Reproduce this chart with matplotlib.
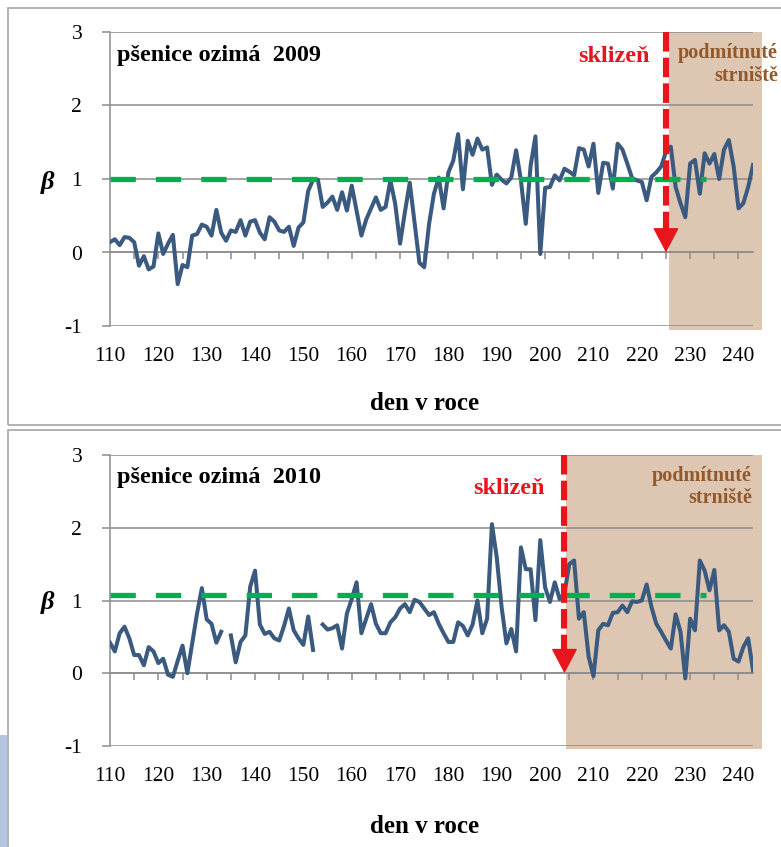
import matplotlib
matplotlib.use("Agg")
import matplotlib.pyplot as plt
from matplotlib.patches import Rectangle
import numpy as np

plt.rcParams['font.family'] = ['Liberation Serif', 'DejaVu Serif']

W, H = 781, 847

days = list(range(110, 244))

beta_2009 = [
    0.14, 0.18, 0.10, 0.21, 0.20, 0.14, -0.18, -0.05, -0.23, -0.19,
    0.26, -0.02, 0.12, 0.24, -0.43, -0.17, -0.20, 0.23, 0.25, 0.38,
    0.35, 0.23, 0.58, 0.27, 0.16, 0.30, 0.28, 0.44, 0.23, 0.42,
    0.44, 0.27, 0.18, 0.48, 0.42, 0.30, 0.28, 0.35, 0.09, 0.34,
    0.41, 0.84, 0.99, 0.99, 0.62, 0.68, 0.76, 0.58, 0.82, 0.57,
    0.91, 0.57, 0.23, 0.45, 0.60, 0.75, 0.58, 0.62, 0.98, 0.66,
    0.12, 0.55, 0.95, 0.40, -0.14, -0.20, 0.39, 0.80, 1.02, 0.60,
    1.09, 1.25, 1.61, 0.86, 1.52, 1.33, 1.55, 1.40, 1.43, 0.92,
    1.06, 0.99, 0.94, 1.02, 1.39, 0.98, 0.39, 1.18, 1.58, -0.02,
    0.88, 0.89, 1.05, 0.98, 1.14, 1.10, 1.05, 1.42, 1.40, 1.17,
    1.48, 0.81, 1.22, 1.21, 0.87, 1.48, 1.40, 1.21, 1.01, 0.98,
    0.96, 0.71, 1.03, 1.09, 1.17, 1.37, 1.44, 0.89, 0.67, 0.48,
    1.21, 1.26, 0.80, 1.35, 1.21, 1.34, 1.00, 1.40, 1.53, 1.17,
    0.60, 0.67, 0.89, 1.19,
]

nan = np.nan
beta_2010 = [
    0.42, 0.30, 0.55, 0.64, 0.48, 0.25, 0.25, 0.11, 0.36, 0.30,
    0.14, 0.20, -0.02, -0.05, 0.17, 0.38, 0.00, 0.41, 0.82, 1.17,
    0.74, 0.68, 0.42, 0.57, nan, 0.52, 0.15, 0.43, 0.52, 1.19,
    1.41, 0.67, 0.54, 0.57, 0.48, 0.45, 0.65, 0.89, 0.59, 0.48,
    0.39, 0.78, 0.32, nan, 0.67, 0.60, 0.62, 0.66, 0.34, 0.82,
    1.02, 1.25, 0.55, 0.75, 0.95, 0.68, 0.55, 0.55, 0.70, 0.77,
    0.89, 0.95, 0.84, 1.01, 0.98, 0.89, 0.80, 0.84, 0.68, 0.55,
    0.43, 0.43, 0.70, 0.65, 0.52, 0.67, 1.00, 0.55, 0.75, 2.05,
    1.59, 0.91, 0.41, 0.61, 0.30, 1.73, 1.43, 1.43, 0.73, 1.83,
    1.18, 0.98, 1.25, 1.02, 1.10, 1.50, 1.55, 0.75, 0.84, 0.23,
    -0.04, 0.59, 0.68, 0.66, 0.83, 0.84, 0.93, 0.84, 0.99, 0.98,
    1.00, 1.22, 0.91, 0.68, 0.57, 0.45, 0.34, 0.81, 0.57, -0.07,
    0.75, 0.59, 1.55, 1.41, 1.14, 1.42, 0.59, 0.66, 0.57, 0.20,
    0.16, 0.36, 0.48, 0.04,
]

mean_level = [1.00, 1.07]          # green dashed line
mean_span = [110, 233.3]
harvest_day = [225, 204]
stubble_span = [(225.6, 244.8), (204.3, 244.8)]
titles = ['pšenice ozimá  2009', 'pšenice ozimá  2010']
xtick_vals = list(range(110, 241, 10))
ytick_vals = [-1, 0, 1, 2, 3]

BLUE = '#3B5A80'
GREEN = '#00B050'
RED = '#E8161C'
TAN = '#DDC7B3'
BROWN = '#93592A'
GRID = '#8C8C8C'


def fx(x):
    return x / W


def fy(y):
    return 1 - y / H


fig = plt.figure(figsize=(W / 100, H / 100), dpi=100)

# chart frames + slide strip
fig.patches.append(Rectangle((fx(8), fy(425)), 1.2, fy(8) - fy(425), transform=fig.transFigure,
                             fill=False, edgecolor='#A6A6A6', lw=1.2))
fig.patches.append(Rectangle((fx(8), fy(860)), 1.2, fy(430) - fy(860), transform=fig.transFigure,
                             fill=False, edgecolor='#A6A6A6', lw=1.2))
fig.patches.append(Rectangle((0, 0), fx(7), fy(735), transform=fig.transFigure,
                             facecolor='#B4C5E2', edgecolor='none'))

panels = [
    dict(top=32, bottom=326, beta=beta_2009, title_y=55, skl=(650, 57),
         pod=(778, 53, 76), xlabel_y=403, beta_y=182),
    dict(top=455, bottom=746, beta=beta_2010, title_y=477, skl=(545, 488),
         pod=(752, 476, 498), xlabel_y=826, beta_y=602),
]

for i, p in enumerate(panels):
    ax = fig.add_axes([fx(110), fy(p['bottom']), fx(753) - fx(110), fy(p['top']) - fy(p['bottom'])])
    ax.set_xlim(110, 243)
    ax.set_ylim(-1, 3)

    # stubble shading
    s0, s1 = stubble_span[i]
    ax.axvspan(s0, s1, ymin=-0.012, ymax=1, color=TAN, lw=0, clip_on=False, zorder=0)

    # gridlines
    for yv in ytick_vals:
        ax.axhline(yv, color=GRID, lw=1.1, zorder=1)

    ax.plot(days, p['beta'], color=BLUE, lw=2.9, zorder=3, solid_joinstyle='round')
    ax.plot(mean_span, [mean_level[i]] * 2, color=GREEN, lw=3.8, dashes=(4.8, 3.8), zorder=4,
            solid_capstyle='butt', dash_capstyle='butt')

    # harvest arrow
    hd = harvest_day[i]
    ax.plot([hd, hd], [3, 0.3], color=RED, lw=4.4, dashes=(3.2, 1.0), dash_capstyle='butt', zorder=5)
    ax.annotate('', xy=(hd, 0), xytext=(hd, 0.34),
                arrowprops=dict(arrowstyle='-|>,head_length=0.8,head_width=0.42', color=RED,
                                lw=1, shrinkA=0, shrinkB=0, mutation_scale=20), zorder=6)

    for sp in ['top', 'right', 'bottom']:
        ax.spines[sp].set_visible(False)
    ax.spines['left'].set_color(GRID)
    ax.spines['left'].set_linewidth(1.1)

    ax.set_yticks(ytick_vals)
    ax.set_yticklabels([str(v) for v in ytick_vals], fontsize=15.5)
    ax.tick_params(axis='y', length=6, color=GRID, width=1.1, pad=14)
    ax.set_xticks(xtick_vals)
    ax.set_xticklabels([str(v) for v in xtick_vals], fontsize=15.5)
    ax.tick_params(axis='x', length=0, pad=15)

    # axis crossing at zero with 5-day ticks
    sec = ax.secondary_xaxis(0.25)
    sec.set_xticks(list(range(115, 241, 5)))
    sec.set_xticklabels([])
    sec.tick_params(length=5, color=GRID, width=1.1, direction='out')
    sec.spines['bottom'].set_color(GRID)
    sec.spines['bottom'].set_linewidth(1.1)

    fig.text(fx(117), fy(p['title_y']), titles[i], fontsize=17.5, fontweight='bold',
             ha='left', va='center')
    fig.text(fx(p['skl'][0]), fy(p['skl'][1]), 'sklizeň', fontsize=17.5, fontweight='bold',
             color=RED, ha='right', va='center')
    fig.text(fx(p['pod'][0]), fy(p['pod'][1]), 'podmítnuté', fontsize=14.5, fontweight='bold',
             color=BROWN, ha='right', va='center')
    fig.text(fx(p['pod'][0]), fy(p['pod'][2]), 'strniště', fontsize=14.5, fontweight='bold',
             color=BROWN, ha='right', va='center')
    fig.text(fx(425), fy(p['xlabel_y']), 'den v roce', fontsize=18, fontweight='bold',
             ha='center', va='center')
    fig.text(fx(48), fy(p['beta_y']), 'β', fontsize=19, fontweight='bold', style='italic',
             ha='center', va='center')

fig.savefig('out.png', dpi=100)
